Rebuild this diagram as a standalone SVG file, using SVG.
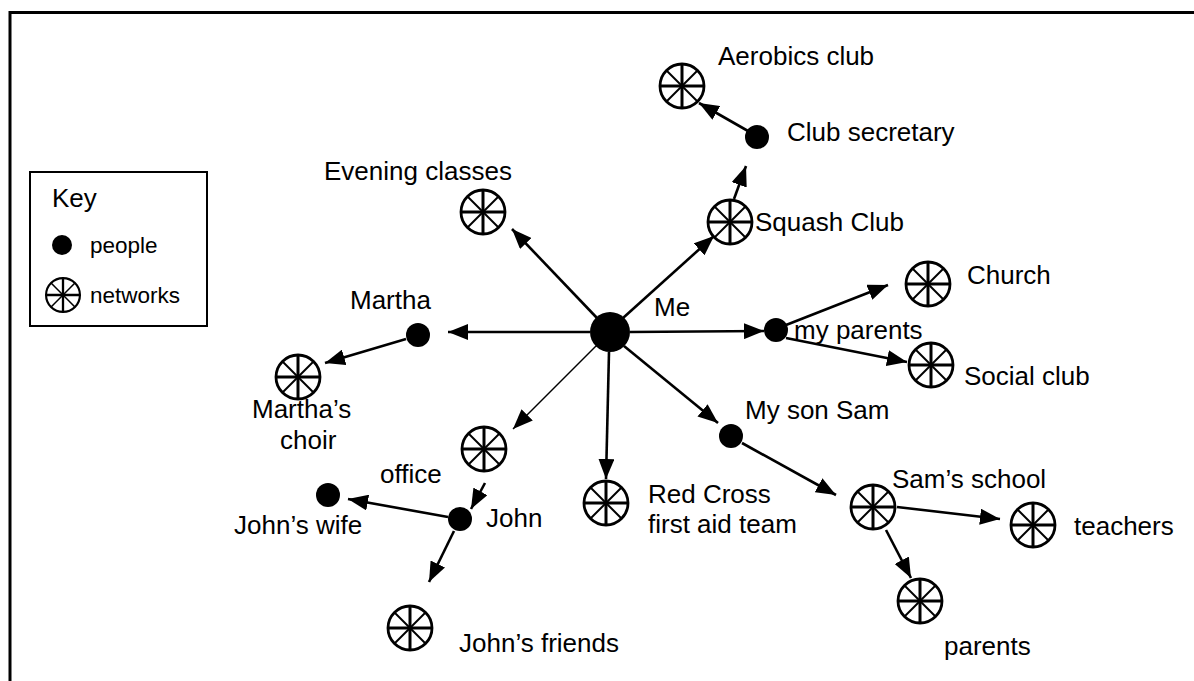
<svg xmlns="http://www.w3.org/2000/svg" width="1194" height="681" viewBox="0 0 1194 681">
  <style>
    text { font-family: "Liberation Sans", Arial, sans-serif; font-size: 26px; fill: #000; }
    .key-label { font-size: 22.5px; }
    .person { fill: #000; }
    .ring { fill: #fff; stroke: #000; stroke-width: 2.8; }
    .spoke { stroke: #000; stroke-width: 2; }
    .spoke-main { stroke: #000; stroke-width: 3; }
    .link { stroke: #000; stroke-width: 2.6; fill: none; marker-end: url(#arrow); }
    .link-thin { stroke: #000; stroke-width: 1.4; fill: none; marker-end: url(#arrow); }
  </style>
  <defs>
    <marker id="arrow" markerUnits="userSpaceOnUse" markerWidth="20" markerHeight="16" viewBox="0 0 20 16" refX="20" refY="8" orient="auto">
      <path d="M0,0 L20,8 L0,16 Z" fill="#000"/>
    </marker>
    <!-- network symbol: wheel with eight spokes, radius 22 -->
    <g id="net">
      <circle class="ring" r="22"/>
      <line class="spoke-main" x1="-22" y1="0" x2="22" y2="0"/>
      <line class="spoke-main" x1="0" y1="-22" x2="0" y2="22"/>
      <line class="spoke" x1="-15.5" y1="-15.5" x2="15.5" y2="15.5"/>
      <line class="spoke" x1="-15.5" y1="15.5" x2="15.5" y2="-15.5"/>
    </g>
  </defs>

  <rect width="1194" height="681" fill="#fff"/>
  <!-- frame: top and left edges -->
  <path d="M10,681 V12.5 H1194" fill="none" stroke="#000" stroke-width="3"/>

  <!-- key -->
  <g id="key">
    <rect x="30" y="172" width="177" height="154" fill="#fff" stroke="#000" stroke-width="2"/>
    <text x="52" y="207">Key</text>
    <circle class="person" cx="62" cy="245" r="10"/>
    <text class="key-label" x="90" y="253">people</text>
    <g transform="translate(63,295) scale(0.77)"><use href="#net"/></g>
    <text class="key-label" x="90" y="303">networks</text>
  </g>

  <!-- connectors -->
  <g id="connectors">
    <line class="link" x1="597" y1="318" x2="512" y2="229"/>
    <line class="link" x1="623" y1="318" x2="714" y2="236"/>
    <line class="link" x1="630" y1="332" x2="764" y2="331"/>
    <line class="link" x1="590" y1="332" x2="448" y2="332"/>
    <line class="link" x1="624" y1="346" x2="718" y2="423"/>
    <line class="link" x1="609" y1="352" x2="606" y2="479"/>
    <line class="link-thin" x1="596" y1="346" x2="513" y2="429"/>
    <line class="link" x1="734" y1="199" x2="746" y2="166"/>
    <line class="link" x1="748" y1="131" x2="699" y2="103"/>
    <line class="link" x1="786" y1="325" x2="888" y2="285"/>
    <line class="link" x1="786" y1="338" x2="907" y2="362"/>
    <line class="link" x1="406" y1="339" x2="325" y2="363"/>
    <line class="link" x1="742" y1="443" x2="836" y2="495"/>
    <line class="link" x1="897" y1="507" x2="1000" y2="519"/>
    <line class="link" x1="886" y1="530" x2="911" y2="578"/>
    <line class="link" x1="485" y1="483" x2="471" y2="509"/>
    <line class="link" x1="448" y1="517" x2="348" y2="499"/>
    <line class="link" x1="454" y1="531" x2="429" y2="582"/>
  </g>

  <!-- people -->
  <g id="me"><circle class="person" cx="610" cy="332" r="20"/><text x="654" y="316">Me</text></g>
  <g id="club-secretary"><circle class="person" cx="757" cy="137" r="12"/><text x="787" y="141">Club secretary</text></g>
  <g id="my-parents"><circle class="person" cx="776" cy="330" r="12"/><text x="794" y="339">my parents</text></g>
  <g id="martha"><circle class="person" cx="418" cy="335" r="12"/><text x="350" y="309">Martha</text></g>
  <g id="my-son-sam"><circle class="person" cx="731" cy="436" r="12"/><text x="745" y="419">My son Sam</text></g>
  <g id="john"><circle class="person" cx="460" cy="519" r="12"/><text x="486" y="527">John</text></g>
  <g id="johns-wife"><circle class="person" cx="328" cy="495" r="12"/><text x="234" y="534">John’s wife</text></g>

  <!-- networks -->
  <g id="aerobics-club"><use href="#net" x="682" y="86"/><text x="718" y="65">Aerobics club</text></g>
  <g id="evening-classes"><use href="#net" x="483" y="212"/><text x="324" y="180">Evening classes</text></g>
  <g id="squash-club"><use href="#net" x="730" y="222"/><text x="755" y="231">Squash Club</text></g>
  <g id="church"><use href="#net" x="928" y="284"/><text x="967" y="284">Church</text></g>
  <g id="social-club"><use href="#net" x="931" y="365"/><text x="964" y="385">Social club</text></g>
  <g id="marthas-choir"><use href="#net" x="298" y="377"/><text x="252" y="418">Martha’s</text><text x="280" y="449">choir</text></g>
  <g id="office"><use href="#net" x="484" y="449"/><text x="380" y="483">office</text></g>
  <g id="red-cross"><use href="#net" x="606" y="503"/><text x="648" y="503">Red Cross</text><text x="648" y="533">first aid team</text></g>
  <g id="sams-school"><use href="#net" x="873" y="507"/><text x="892" y="488">Sam’s school</text></g>
  <g id="teachers"><use href="#net" x="1033" y="525"/><text x="1074" y="535">teachers</text></g>
  <g id="parents"><use href="#net" x="920" y="601"/><text x="944" y="655">parents</text></g>
  <g id="johns-friends"><use href="#net" x="410" y="628"/><text x="459" y="652">John’s friends</text></g>
</svg>
